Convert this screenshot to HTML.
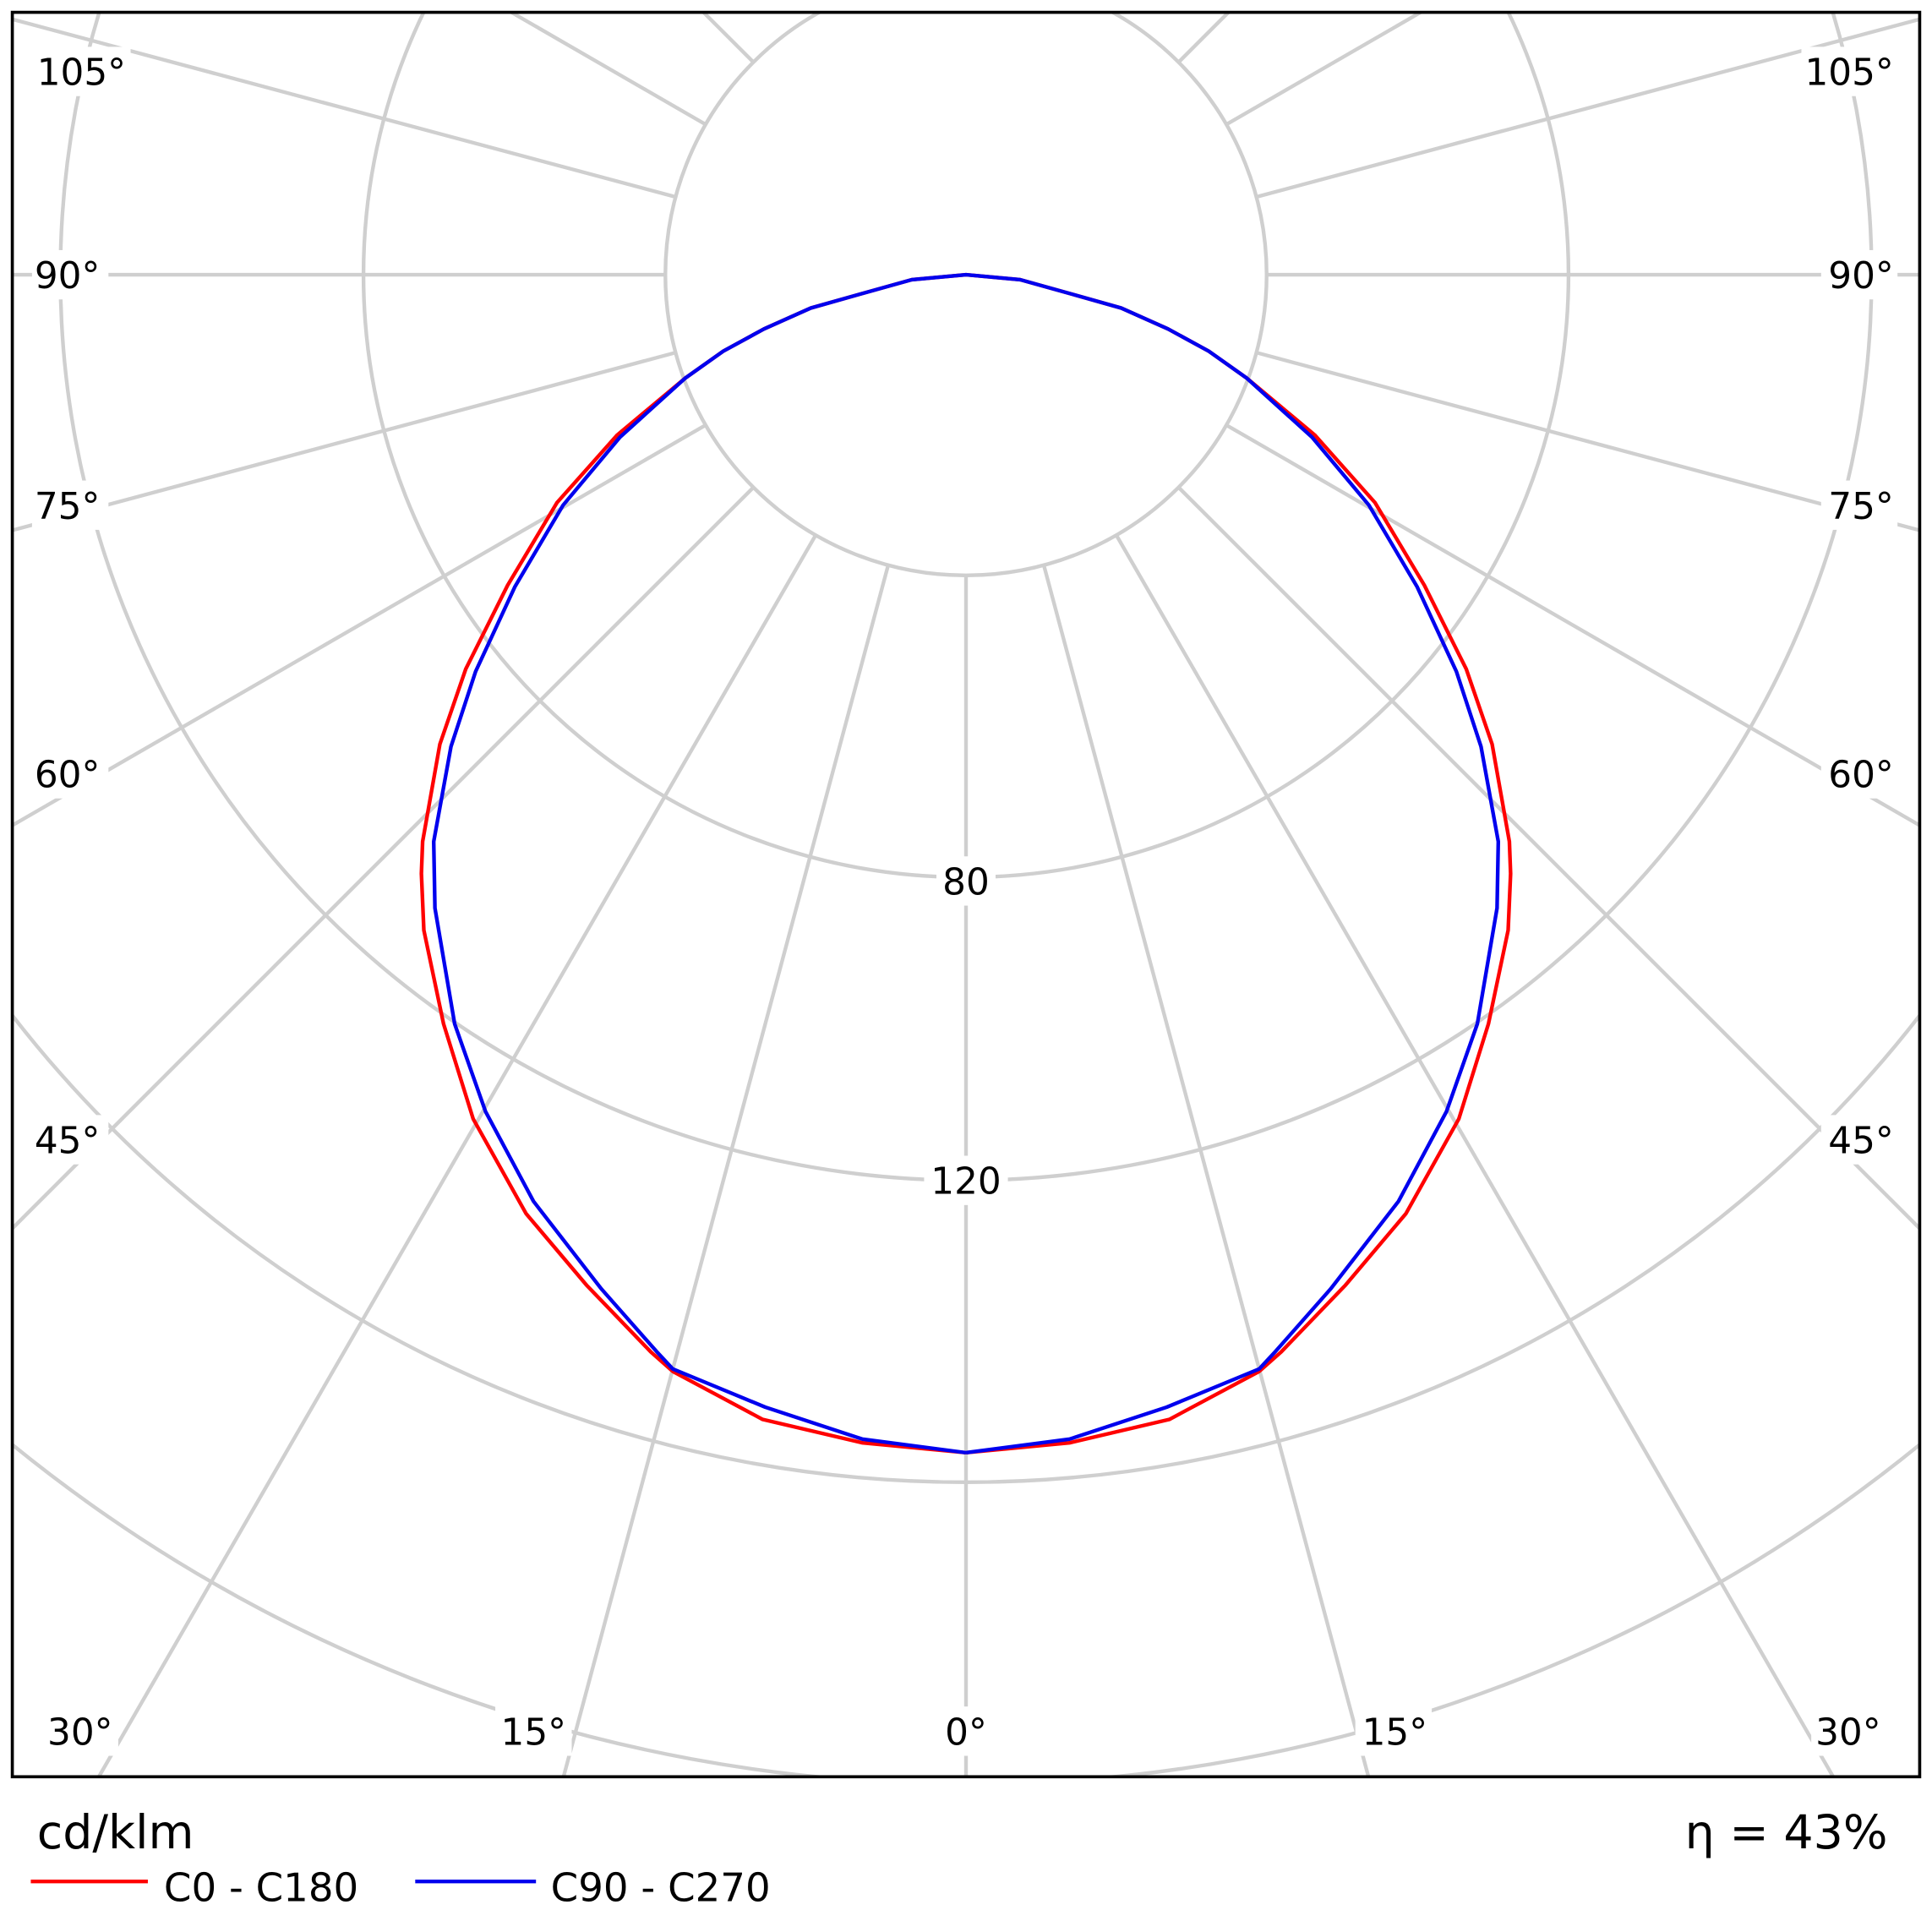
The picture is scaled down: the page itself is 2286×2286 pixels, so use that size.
<!DOCTYPE html>
<html><head><meta charset="utf-8">
<style>
html,body{margin:0;padding:0;background:#fff;width:2286px;height:2286px;overflow:hidden;position:relative;}
svg{display:block;position:absolute;left:0;top:0;}
text{font-family:"DejaVu Sans","Liberation Sans",sans-serif;fill:#000;}
</style></head>
<body>
<svg width="2286" height="2286" viewBox="0 0 1568 1568" xmlns="http://www.w3.org/2000/svg">
<defs><clipPath id="c"><rect x="10" y="10" width="1548" height="1432"/></clipPath></defs>
<rect width="1568" height="1568" fill="#fff"/>
<g clip-path="url(#c)" stroke="#cfcfcf" stroke-width="3" fill="none">
<circle cx="784" cy="223" r="244"/>
<circle cx="784" cy="223" r="489"/>
<circle cx="784" cy="223" r="735"/>
<circle cx="784" cy="223" r="980"/>
<circle cx="784" cy="223" r="1225"/>
<line x1="784" y1="467" x2="784" y2="2223"/>
<line x1="784" y1="467" x2="784" y2="2223" transform="rotate(15 784 223)"/>
<line x1="784" y1="467" x2="784" y2="2223" transform="rotate(30 784 223)"/>
<line x1="784" y1="467" x2="784" y2="2223" transform="rotate(45 784 223)"/>
<line x1="784" y1="467" x2="784" y2="2223" transform="rotate(60 784 223)"/>
<line x1="784" y1="467" x2="784" y2="2223" transform="rotate(75 784 223)"/>
<line x1="784" y1="467" x2="784" y2="2223" transform="rotate(90 784 223)"/>
<line x1="784" y1="467" x2="784" y2="2223" transform="rotate(105 784 223)"/>
<line x1="784" y1="467" x2="784" y2="2223" transform="rotate(120 784 223)"/>
<line x1="784" y1="467" x2="784" y2="2223" transform="rotate(135 784 223)"/>
<line x1="784" y1="467" x2="784" y2="2223" transform="rotate(150 784 223)"/>
<line x1="784" y1="467" x2="784" y2="2223" transform="rotate(165 784 223)"/>
<line x1="784" y1="467" x2="784" y2="2223" transform="rotate(-15 784 223)"/>
<line x1="784" y1="467" x2="784" y2="2223" transform="rotate(-30 784 223)"/>
<line x1="784" y1="467" x2="784" y2="2223" transform="rotate(-45 784 223)"/>
<line x1="784" y1="467" x2="784" y2="2223" transform="rotate(-60 784 223)"/>
<line x1="784" y1="467" x2="784" y2="2223" transform="rotate(-75 784 223)"/>
<line x1="784" y1="467" x2="784" y2="2223" transform="rotate(-90 784 223)"/>
<line x1="784" y1="467" x2="784" y2="2223" transform="rotate(-105 784 223)"/>
<line x1="784" y1="467" x2="784" y2="2223" transform="rotate(-120 784 223)"/>
<line x1="784" y1="467" x2="784" y2="2223" transform="rotate(-135 784 223)"/>
<line x1="784" y1="467" x2="784" y2="2223" transform="rotate(-150 784 223)"/>
<line x1="784" y1="467" x2="784" y2="2223" transform="rotate(-165 784 223)"/>
</g>
<g font-size="30">
<g fill="#fff">
<rect x="26" y="38" width="80" height="40"/><rect x="1462" y="38" width="80" height="40"/>
<rect x="26" y="203" width="62" height="40"/><rect x="1478" y="203" width="62" height="40"/>
<rect x="26" y="390" width="62" height="40"/><rect x="1478" y="390" width="62" height="40"/>
<rect x="26" y="608" width="62" height="40"/><rect x="1478" y="608" width="62" height="40"/>
<rect x="26" y="905" width="62" height="40"/><rect x="1478" y="905" width="62" height="40"/>
<rect x="34" y="1385" width="62" height="40"/><rect x="1470" y="1385" width="62" height="40"/>
<rect x="402" y="1385" width="62" height="40"/><rect x="1100" y="1385" width="62" height="40"/>
<rect x="762" y="1385" width="44" height="40"/>
<rect x="760" y="695" width="48" height="40"/><rect x="750" y="938" width="68" height="40"/>
</g>
<text x="30" y="69">105°</text><text x="1537" y="69" text-anchor="end">105°</text>
<text x="28" y="234">90°</text><text x="1537" y="234" text-anchor="end">90°</text>
<text x="28" y="421">75°</text><text x="1537" y="421" text-anchor="end">75°</text>
<text x="28" y="639">60°</text><text x="1537" y="639" text-anchor="end">60°</text>
<text x="28" y="936">45°</text><text x="1537" y="936" text-anchor="end">45°</text>
<text x="65" y="1416" text-anchor="middle">30°</text><text x="1500" y="1416" text-anchor="middle">30°</text>
<text x="433" y="1416" text-anchor="middle">15°</text><text x="1132" y="1416" text-anchor="middle">15°</text>
<text x="784" y="1416" text-anchor="middle">0°</text>
<text x="784" y="726" text-anchor="middle">80</text>
<text x="784" y="969" text-anchor="middle">120</text>
</g>
<polyline fill="none" stroke="#ff0000" stroke-width="3" stroke-linejoin="round" points="784,1179 700,1171 619,1152 546,1113 528,1097 476,1043 427,985 384,908 360,831 344,755 342,709 343,683 357,604 378,543 412,475 452,408 501,353 556,307 587,285 620,267 658,250 697,239 740,227 784,223 828,227 871,239 910,250 948,267 981,285 1012,307 1067,353 1116,408 1156,475 1190,543 1211,604 1225,683 1226,709 1224,755 1208,831 1184,908 1141,985 1092,1043 1040,1097 1022,1113 949,1152 868,1171 784,1179"/>
<polyline fill="none" stroke="#0000ee" stroke-width="3" stroke-linejoin="round" points="784,1179 700,1168 621,1142 546,1111 533,1097 488,1046 433,975 394,902 369,831 353,737 352,683 366,606 386,545 418,476 457,410 503,355 556,307 587,285 620,267 658,250 697,239 740,227 784,223 828,227 871,239 910,250 948,267 981,285 1012,307 1065,355 1111,410 1150,476 1182,545 1202,606 1216,683 1215,737 1199,831 1174,902 1135,975 1080,1046 1035,1097 1022,1111 947,1142 868,1168 784,1179"/>
<rect x="10" y="10" width="1548" height="1432" fill="none" stroke="#000" stroke-width="2.5"/>
<text x="30" y="1500" font-size="38">cd/klm</text>
<text x="1532" y="1500" font-size="38" text-anchor="end">η = 43%</text>
<line x1="25" y1="1527" x2="120" y2="1527" stroke="#ff0000" stroke-width="3"/>
<text x="133" y="1543" font-size="32">C0 - C180</text>
<line x1="337" y1="1527" x2="435" y2="1527" stroke="#0000ee" stroke-width="3"/>
<text x="447" y="1543" font-size="32">C90 - C270</text>
</svg>
</body></html>
